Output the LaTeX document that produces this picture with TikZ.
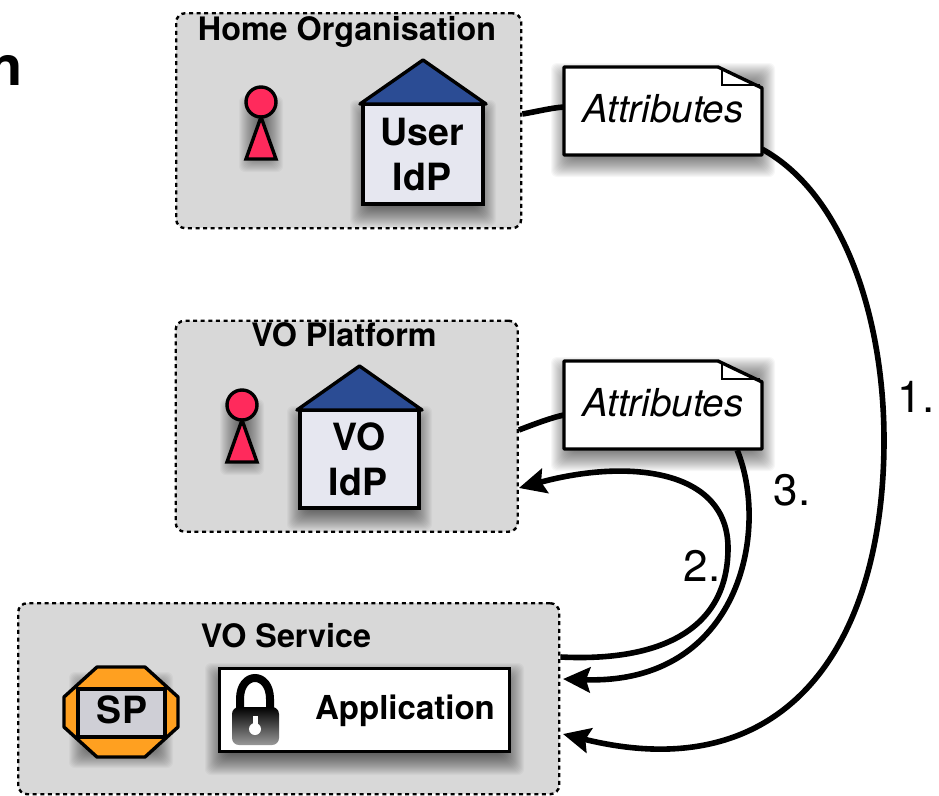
\documentclass[tikz,border=0pt]{standalone}
\usepackage{fontspec}
\setmainfont{TeX Gyre Heros}
\newfontfamily\titlefont{Open Sans}
\usetikzlibrary{arrows.meta}
\definecolor{regiongray}{HTML}{D8D8D8}
\definecolor{housewall}{HTML}{E6E7F0}
\definecolor{roofblue}{HTML}{2B4C94}
\definecolor{personred}{HTML}{FF2A5C}
\definecolor{sporange}{HTML}{FFA020}
\definecolor{spgray}{HTML}{CFCFD6}
\tikzset{
  region/.style={draw=black,fill=regiongray,line width=2.4pt,dash pattern=on 4pt off 3.6pt,rounded corners=9pt,inner sep=0pt,anchor=north west},
  regiontitle/.style={font=\fontsize{32.3}{32}\selectfont\bfseries,anchor=base,inner sep=0pt},
  boxtext/.style={font=\fontsize{37.5}{37}\selectfont\bfseries,anchor=base,inner sep=0pt},
  attrtext/.style={font=\fontsize{38.5}{38}\selectfont\itshape,anchor=base,inner sep=0pt},
  steplabel/.style={font=\fontsize{44}{44}\selectfont,anchor=base,inner sep=0pt},
  outline/.style={draw=black,line width=3.4pt,line join=miter},
  conn/.style={draw=black,line width=5.6pt},
  connarrow/.style={conn,-{Stealth[length=27pt,width=25pt,inset=4pt]}},
}
% soft drop shadow round a rectangle, coordinates in reference pixels
\newcommand{\softshadow}[4]{%
  \foreach \e in {13,12,...,-8}{%
    \fill[black,opacity=0.032,rounded corners=6pt]
      ({#1-\e},{#2-\e+9}) rectangle ({#3+\e},{#4+\e+9});
  }%
}
\newcommand{\personfig}[2]{% centre x, head centre y
  \softshadow{#1-9}{#2-2}{#1+9}{#2+48}
  \draw[outline,fill=personred] ({#1},{#2+15}) -- ({#1+15},{#2+57}) -- ({#1-15},{#2+57}) -- cycle;
  \draw[outline,fill=personred] (#1,#2) circle[radius=15pt];
}
\newcommand{\housefig}[4]{% x left, x right, roof apex y, wall bottom y
  \softshadow{#1+3}{#3+44}{#2-3}{#4}
  \draw[outline,fill=housewall] ({#1+3},{#3+44}) rectangle ({#2-3},#4);
  \draw[outline,fill=roofblue,line join=round] (#1,{#3+44}) -- ({(#1+#2)/2},#3) -- (#2,{#3+44}) -- cycle;
}
\newcommand{\docfig}[2]{% name, y top
  \softshadow{564}{#2}{762}{#2+88}
  \draw[outline,fill=white,line join=round] (564,#2) -- (718,#2) -- (762,{#2+21}) -- (762,{#2+88}) -- (564,{#2+88}) -- cycle;
  \draw[draw=black,line width=2pt] (722,{#2+1}) -- (722,{#2+18}) -- (760,{#2+18});
  \node[inner sep=0pt,minimum width=198pt,minimum height=88pt] (#1) at (663,{#2+44}) {};
}
\begin{document}
\begin{tikzpicture}[x=1pt,y=-1pt]
\useasboundingbox (0,0) rectangle (939,795);
\node[anchor=base east,inner sep=0pt,font=\fontsize{54}{54}\selectfont\titlefont\bfseries] (cuttitle) at (23,85) {n};

% regions
\node[region,minimum width=345pt,minimum height=215pt] (home) at (175,12) {};
\node[region,minimum width=342pt,minimum height=211pt] (platform) at (174.5,319.5) {};
\node[region,minimum width=541pt,minimum height=191pt] (service) at (17,602) {};
\node[regiontitle] (homet) at (347,40) {Home Organisation};
\node[regiontitle] (platt) at (344,346) {VO Platform};
\node[regiontitle] (servt) at (286,647) {VO Service};

% home organisation
\personfig{261}{102}
\housefig{360}{486}{60}{204}
\node[boxtext] (usr) at (422,145) {User};
\node[boxtext] (usridp) at (422,190) {IdP};

% VO platform
\personfig{242}{405}
\housefig{297}{422}{366}{508}
\node[boxtext] (vo) at (359,450) {VO};
\node[boxtext] (voidp) at (358,495) {IdP};

% VO service
\softshadow{82}{676}{160}{746}
\draw[outline,fill=sporange,line join=round] (97,667) -- (145,667) -- (178,697) -- (178,727) -- (145,757) -- (97,757) -- (64,727) -- (64,697) -- cycle;
\draw[outline,fill=spgray] (78,689) rectangle (165,737);
\node[boxtext] (sp) at (122,723) {SP};
\softshadow{218}{667}{511}{753}
\node[draw=black,line width=3.4pt,fill=white,minimum width=290pt,minimum height=83pt,inner sep=0pt] (app) at (364.5,710) {};
\node[inner sep=0pt,anchor=base,font=\fontsize{33}{33}\selectfont\bfseries] (appt) at (405,719) {Application};
% padlock
\draw[black,line width=8pt] (240,712) -- (240,699) .. controls (240,671) and (270,671) .. (270,699) -- (270,712);
\shade[top color=black,bottom color=black!40,rounded corners=7pt] (232,707) rectangle (279,745);
\fill[white] (255,729) circle[radius=6pt];
\fill[white] (252.5,716) rectangle (257.5,730);

% documents
\docfig{attra}{67}
\docfig{attrb}{361}
\node[attrtext] (attratxt) at (663,122) {Attributes};
\node[attrtext] (attrbtxt) at (663,416) {Attributes};

% connectors
\draw[conn] (attra.west) ++(0,-4) .. controls (550,108) and (535,112) .. (home.east |- 0,114);
\draw[conn] (attrb.west) ++(0,10) .. controls (550,418) and (532,425) .. (platform.east |- 0,430);
\draw[connarrow] (attra.south east) ++(0,-6) .. controls (845,195) and (884,320) .. (884,440) .. controls (884,640) and (790,790) .. (563,734);
\draw[connarrow] (service.east |- 0,657) .. controls (660,662) and (728,630) .. (728,548) .. controls (728,470) and (630,458) .. (platform.east |- 0,488);
\draw[connarrow] (attrb.south east) ++(-25,1) .. controls (770,530) and (740,685) .. (563,679);

% labels
\node[steplabel] (one) at (916,412) {1.};
\node[steplabel] (three) at (792,505) {3.};
\node[steplabel] (two) at (702,581) {2.};
\end{tikzpicture}
\end{document}
